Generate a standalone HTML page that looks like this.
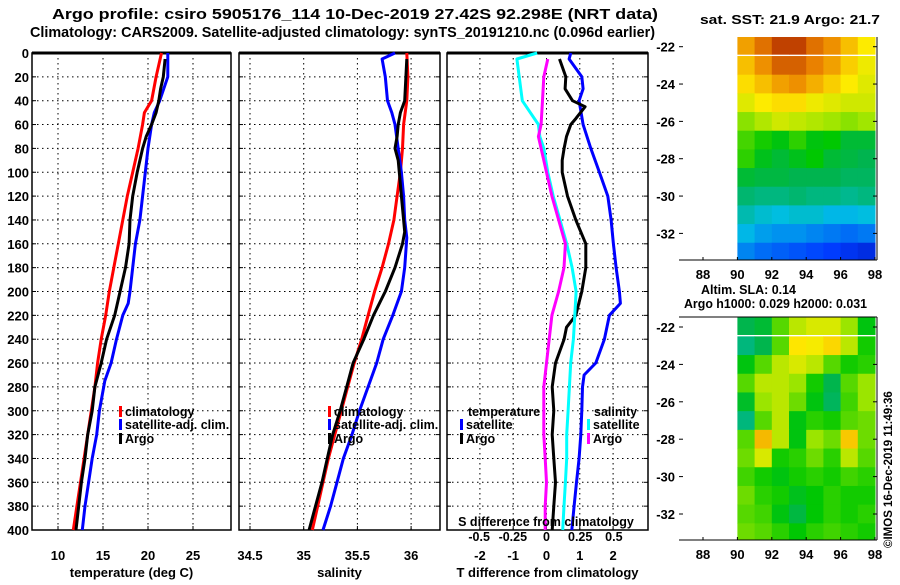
<!DOCTYPE html>
<html><head><meta charset="utf-8"><style>
body{margin:0;background:#fff;}
svg text{font-family:"Liberation Sans",sans-serif;font-weight:bold;fill:#000;}
</style></head><body>
<svg id="c" width="900" height="580" viewBox="0 0 900 580" xmlns="http://www.w3.org/2000/svg">
<text x="52" y="19" font-size="15" textLength="606" lengthAdjust="spacingAndGlyphs">Argo profile: csiro 5905176_114 10-Dec-2019 27.42S 92.298E (NRT data)</text>
<text x="30" y="37" font-size="15" textLength="625" lengthAdjust="spacingAndGlyphs">Climatology: CARS2009. Satellite-adjusted climatology: synTS_20191210.nc (0.096d earlier)</text>
<text x="700" y="24" font-size="13" textLength="180" lengthAdjust="spacingAndGlyphs">sat. SST: 21.9 Argo: 21.7</text>
<text x="701" y="294" font-size="13" textLength="95" lengthAdjust="spacingAndGlyphs">Altim. SLA: 0.14</text>
<text x="684" y="308" font-size="13" textLength="183" lengthAdjust="spacingAndGlyphs">Argo h1000: 0.029 h2000: 0.031</text>
<text transform="translate(892,548) rotate(-90)" font-size="11.5">©IMOS 16-Dec-2019 11:49:36</text>
<g id="g"></g>
</svg>
<script>
const NS="http://www.w3.org/2000/svg";
const G=document.getElementById('g');
function mk(t,a,p){const e=document.createElementNS(NS,t);for(const k in a)e.setAttribute(k,a[k]);(p||G).appendChild(e);return e;}
function txt(x,y,s,size,anchor,p){const e=mk('text',{x:x,y:y,'font-size':size,'text-anchor':anchor||'start'},p);e.textContent=s;return e;}

// ---- data ----
const depthTicks=[0,20,40,60,80,100,120,140,160,180,200,220,240,260,280,300,320,340,360,380,400];
const tempTicks=[10,15,20,25];
const salTicks=[34.5,35,35.5,36];
const dTTicks=[-2,-1,0,1,2];
const dSTicks=[-0.5,-0.25,0,0.25,0.5];
const dSTickLabels=['-0.5','-0.25','0','0.25','0.5'];
const lonTicks=[88,90,92,94,96,98];
const latTicks=[-22,-24,-26,-28,-30,-32];

const tClimDepth=[0,20,40,50,60,80,100,120,140,160,180,200,220,240,260,280,300,320,340,360,380,400];
const tClim=[21.5,20.9,20.4,19.6,19.4,18.9,18.3,17.7,17.2,16.7,16.2,15.7,15.3,14.8,14.4,14.1,13.7,13.3,12.9,12.5,12.1,11.7];
const tSatDepth=[0,20,40,50,60,80,100,120,140,160,180,200,210,220,240,260,275,300,320,340,360,380,400];
const tSat=[22.2,22.2,21.3,20.7,20.4,20.0,19.7,19.4,19.1,18.6,18.3,18.0,17.8,17.2,16.5,15.9,15.2,14.6,14.3,13.8,13.4,13.0,12.7];
const tArgoDepth=[5,20,30,40,50,60,70,80,100,120,140,160,180,200,220,240,260,280,300,320,340,360,380,400];
const tArgo=[21.9,21.7,21.4,21.2,20.9,20.4,19.8,19.4,18.8,18.3,18.0,17.9,17.5,16.9,16.3,15.4,14.8,14.1,13.8,13.3,13.0,12.6,12.3,12.0];

const sClimDepth=[0,20,40,60,80,100,120,140,160,180,200,220,240,260,280,300,320,340,360,380,400];
const sClim=[35.96,35.97,35.96,35.93,35.92,35.90,35.87,35.84,35.79,35.73,35.66,35.60,35.54,35.47,35.41,35.35,35.29,35.23,35.18,35.13,35.08];
const sSatDepth=[0,5,20,40,50,60,80,100,120,140,155,180,200,220,240,260,280,300,320,340,360,380,400];
const sSat=[35.85,35.73,35.76,35.78,35.82,35.85,35.88,35.91,35.93,35.94,35.96,35.94,35.91,35.83,35.74,35.68,35.60,35.52,35.45,35.37,35.31,35.25,35.18];
const sArgoDepth=[5,40,50,60,70,80,90,100,120,140,150,160,180,200,220,240,260,280,300,320,340,360,380,400];
const sArgo=[35.96,35.94,35.90,35.88,35.87,35.85,35.88,35.89,35.91,35.93,35.94,35.92,35.85,35.76,35.65,35.56,35.46,35.40,35.34,35.27,35.22,35.17,35.11,35.05];

const dTSatDepth=[0,5,20,30,40,60,80,100,120,140,160,180,200,210,220,240,260,270,280,300,320,340,360,380,400];
const dTSat=[0.73,0.68,1.06,1.1,0.98,1.1,1.33,1.59,1.84,1.94,2.01,2.09,2.19,2.22,1.89,1.74,1.48,1.13,1.08,1.06,1.03,0.98,0.90,0.83,0.76];
const dTArgoDepth=[5,20,30,40,45,55,60,70,80,90,100,120,140,160,180,200,220,230,240,260,280,300,320,340,360,380,400];
const dTArgo=[0.39,0.58,0.56,0.78,1.16,0.88,0.73,0.6,0.53,0.47,0.47,0.63,0.88,1.18,1.18,1.06,0.88,0.6,0.53,0.27,0.17,0.22,0.17,0.22,0.27,0.22,0.17];
const dSSatDepth=[0,5,40,50,60,70,80,100,120,140,160,180,200,220,240,260,280,300,320,340,360,380,400];
const dSSat=[-0.07,-0.22,-0.18,-0.12,-0.06,-0.05,-0.02,0.01,0.05,0.10,0.15,0.19,0.22,0.21,0.20,0.18,0.17,0.16,0.15,0.15,0.14,0.13,0.12];
const dSArgoDepth=[5,20,40,60,70,80,100,120,140,160,180,200,220,240,260,280,300,320,340,360,380,400];
const dSArgo=[0.01,-0.02,-0.03,-0.04,-0.06,-0.04,0.0,0.04,0.09,0.14,0.13,0.09,0.04,0.02,0.0,-0.02,-0.02,-0.02,-0.01,0.0,-0.01,-0.01];

const mapLons=[90.5,91.5,92.5,93.5,94.5,95.5,96.5,97.5];
const mapLats=[-21.9,-23,-24,-25,-26,-27,-28,-29,-30,-31,-32,-33];
const sstGrid=[
[23.2,23.5,23.8,23.8,23.5,23.3,23.0,22.7],
[23.0,23.3,23.6,23.6,23.4,23.2,22.9,22.6],
[22.8,23.0,23.2,23.3,23.1,22.9,22.7,22.5],
[22.5,22.7,22.8,22.8,22.6,22.5,22.4,22.4],
[22.0,22.2,22.4,22.3,22.2,22.1,22.0,22.1],
[21.7,21.5,21.3,21.6,21.3,21.4,21.0,21.0],
[21.6,21.2,21.0,21.2,21.4,21.0,20.9,20.8],
[21.0,20.9,20.9,20.8,20.8,20.8,20.7,20.7],
[20.6,20.5,20.5,20.6,20.5,20.5,20.4,20.5],
[20.2,20.0,19.9,20.0,20.0,19.8,19.8,19.9],
[19.8,19.6,19.5,19.5,19.4,19.3,19.2,19.3],
[19.4,19.2,19.1,19.0,18.9,18.8,18.7,18.6]];
const slaGrid=[
[-0.05,-0.03,0.05,0.10,0.12,0.12,0.08,0.0],
[-0.08,-0.05,0.05,0.15,0.14,0.16,0.10,0.02],
[0.0,0.05,0.10,0.12,0.10,0.05,0.02,0.03],
[0.05,0.10,0.10,0.08,0.02,-0.05,0.05,0.08],
[-0.02,0.08,0.10,0.06,0.0,-0.06,0.04,0.08],
[-0.08,0.05,0.10,0.0,0.03,0.02,0.05,0.06],
[0.05,0.18,0.10,0.0,0.08,0.06,0.17,0.06],
[0.06,0.12,0.02,0.03,0.06,0.03,0.10,0.05],
[0.04,0.02,0.0,0.02,0.03,0.02,0.04,0.03],
[0.06,0.03,0.02,-0.01,0.01,0.03,0.02,0.02],
[0.05,0.04,0.0,-0.04,0.01,0.03,0.02,0.03],
[0.06,0.05,0.03,0.01,0.03,0.04,0.03,0.02]];

// ---- axes ----
const Y=d=>53+d*1.1925;
const XT=t=>58+(t-10)*9;
const XS=s=>250+(s-34.5)*107.4;
const XD=v=>546.5+v*33.3;
const XDS=v=>546.5+v*134.7;
const panels=[
 {name:'temperature-panel',x0:32,x1:231,ticks:tempTicks,lab:tempTicks.map(String),fx:XT,xl:'temperature (deg C)'},
 {name:'salinity-panel',x0:239,x1:440,ticks:salTicks,lab:salTicks.map(String),fx:XS,xl:'salinity'},
 {name:'difference-panel',x0:447,x1:648,ticks:dTTicks,lab:dTTicks.map(String),fx:XD,xl:'T difference from climatology'}];
panels.forEach((p,pi)=>{
 const g=mk('g',{});
 
 
 depthTicks.forEach(d=>{if(d>0&&d<400)mk('line',{x1:p.x0,x2:p.x1,y1:Y(d),y2:Y(d),stroke:'#000','stroke-width':1,'stroke-dasharray':'1.5,3.5'},g);
  mk('line',{x1:p.x0,x2:p.x0+4,y1:Y(d),y2:Y(d),stroke:'#000'},g);
  mk('line',{x1:p.x1,x2:p.x1-4,y1:Y(d),y2:Y(d),stroke:'#000'},g);
  if(pi==0){txt(29,Y(d)+5,String(d),13,'end',g);}});
 p.ticks.forEach((v,i)=>{const x=p.fx(v);
  if(x>p.x0+3&&x<p.x1-3)mk('line',{x1:x,x2:x,y1:Y(0),y2:Y(400),stroke:'#000','stroke-dasharray':'1.5,3.5'},g);
  mk('line',{x1:x,x2:x,y1:Y(400),y2:Y(400)-4,stroke:'#000'},g);
  txt(x,560,p.lab[i],13,'middle',g);});
 mk('rect',{x:p.x0,y:Y(0),width:p.x1-p.x0,height:Y(400)-Y(0),fill:'none',stroke:'#000','stroke-width':1.5},g);
 mk('line',{x1:p.x0,x2:p.x1,y1:Y(0),y2:Y(0),stroke:'#000','stroke-width':3},g);
 txt((p.x0+p.x1)/2,577,p.xl,13,'middle',g);
});
function line(ds,vs,fx,col,name){
 const pts=ds.map((d,i)=>fx(vs[i]).toFixed(1)+','+Y(d).toFixed(1)).join(' ');
 const e=mk('polyline',{points:pts,fill:'none',stroke:col,'stroke-width':3,'stroke-linejoin':'round'});
 
 
}
line(tClimDepth,tClim,XT,'#ff0000','temp-climatology-line');
line(tSatDepth,tSat,XT,'#0000ff','temp-satellite-line');
line(tArgoDepth,tArgo,XT,'#000','temp-argo-line');
line(sClimDepth,sClim,XS,'#ff0000','sal-climatology-line');
line(sSatDepth,sSat,XS,'#0000ff','sal-satellite-line');
line(sArgoDepth,sArgo,XS,'#000','sal-argo-line');
line(dTSatDepth,dTSat,XD,'#0000ff','dT-satellite-line');
line(dTArgoDepth,dTArgo,XD,'#000','dT-argo-line');
line(dSSatDepth,dSSat,XDS,'#00ffff','dS-satellite-line');
line(dSArgoDepth,dSArgo,XDS,'#ff00ff','dS-argo-line');
txt(546,526,'S difference from climatology',12.5,'middle');
dSTicks.forEach((v,i)=>txt(XDS(v),541,dSTickLabels[i],12.5,'middle'));
function leg(x,y,col,label,name){const g=mk('g',{});
 
 
 mk('rect',{x:x,y:y-10,width:3,height:11,fill:col},g);txt(x+6,y,label,12.5,'start',g);}
[[119,'temp'],[328,'sal']].forEach(([x,n])=>{
 leg(x,416,'#ff0000','climatology',n+'-legend-climatology');
 leg(x,429,'#0000ff','satellite-adj. clim.',n+'-legend-satellite');
 leg(x,443,'#000','Argo',n+'-legend-argo');});
txt(468,416,'temperature',12.5);txt(594,416,'salinity',12.5);
leg(460,429,'#0000ff','satellite','dT-legend-satellite');
leg(460,443,'#000','Argo','dT-legend-argo');
leg(587,429,'#00ffff','satellite','dS-legend-satellite');
leg(587,443,'#ff00ff','Argo','dS-legend-argo');

// ---- maps ----
const stops=[[0,[0,0,140]],[0.13,[0,60,255]],[0.3,[0,190,230]],[0.45,[0,180,80]],[0.55,[0,200,0]],[0.66,[160,230,0]],[0.76,[255,235,0]],[0.87,[235,130,0]],[1,[150,0,0]]];
function cmap(t){t=Math.max(0,Math.min(1,t));for(let i=1;i<stops.length;i++){if(t<=stops[i][0]){const a=stops[i-1],b=stops[i],f=(t-a[0])/(b[0]-a[0]);const c=a[1].map((v,k)=>Math.round(v+(b[1][k]-v)*f));return 'rgb('+c+')';}}return 'rgb(150,0,0)';}
function map(name,top,bot,latY,grid,vmin,vmax){
 const g=mk('g',{});
 
 
 const LX=lo=>703+(lo-88)*17.2;
 const rows=grid.length;
 grid.forEach((row,r)=>row.forEach((v,c)=>{
  const x0=LX(mapLons[c]-0.5),x1=LX(mapLons[c]+0.5);
  const y0=r==0?top:latY(mapLats[r]+0.5), y1=r==rows-1?bot:latY(mapLats[r]-0.5);
  const cell=mk('rect',{x:x0,y:y0,width:x1-x0+0.5,height:y1-y0+0.5,fill:cmap((v-vmin)/(vmax-vmin))},g);
  
  
 }));
 mk('line',{x1:679,x2:877,y1:bot,y2:bot,stroke:'#000'},g);
 mk('line',{x1:877,x2:877,y1:top,y2:bot,stroke:'#000'},g);
 lonTicks.forEach(lo=>{mk('line',{x1:LX(lo),x2:LX(lo),y1:bot,y2:bot-3,stroke:'#000'},g);txt(LX(lo),bot+19,String(lo),13,'middle',g);});
 latTicks.forEach(la=>{mk('line',{x1:679,x2:683,y1:latY(la),y2:latY(la),stroke:'#000'},g);mk('line',{x1:877,x2:873,y1:latY(la),y2:latY(la),stroke:'#000'},g);txt(675,latY(la)+5,String(la),13,'end',g);});
}
map('sst-map',37,260,la=>46.7+(-22-la)*18.67,sstGrid,18.0,24.2);
map('sla-map',317,540,la=>327+(-22-la)*18.7,slaGrid,-0.34,0.3);
mk('line',{x1:679,x2:877,y1:317,y2:317,stroke:'#000'});
</script>
</body></html>
